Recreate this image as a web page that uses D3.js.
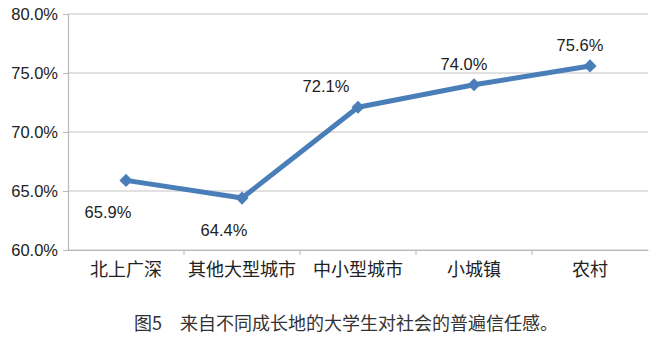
<!DOCTYPE html>
<html>
<head>
    <meta charset="UTF-8" />
    <title>trust chart</title>
    <style>
        body {
            margin: 0;
            padding: 0;
            background: white;
        }

        svg text {
            font-family: 'Liberation Sans', Arial, sans-serif;
        }

        .cjk {
            font-family: 'Noto Sans CJK SC', sans-serif !important;
        }
    </style>
</head>
<body>
    <svg id="chart" width="662" height="338"></svg>

    <script src="https://cdnjs.cloudflare.com/ajax/libs/d3/7.8.5/d3.min.js"></script>
    <script>
        const categories = ['北上广深', '其他大型城市', '中小型城市', '小城镇', '农村']
        const values = [65.9, 64.4, 72.1, 74.0, 75.6]
        const labelSide = ['below', 'below', 'above', 'above', 'above']
        const yTicks = [60, 65, 70, 75, 80]
        const caption = '图5　来自不同成长地的大学生对社会的普遍信任感。'

        const margin = { left: 68, right: 14, top: 14, bottom: 88 }
        const width = 662, height = 338

        const svg = d3.select('#chart')

        const x = d3.scaleBand()
            .domain(categories)
            .range([margin.left, width - margin.right])

        const y = d3.scaleLinear()
            .domain([60, 80])
            .range([height - margin.bottom, margin.top])

        // gridlines
        svg.append('g')
            .selectAll('line')
            .data(yTicks)
            .join('line')
            .attr('x1', margin.left)
            .attr('x2', width - margin.right)
            .attr('y1', d => y(d))
            .attr('y2', d => y(d))
            .attr('stroke', '#c4c4c4')
            .attr('stroke-width', 1.2)

        // y axis
        const yAxis = svg.append('g')
            .attr('transform', `translate(${margin.left},0)`)
            .call(d3.axisLeft(y).tickValues(yTicks).tickSize(5).tickFormat(d => d.toFixed(1) + '%'))
        yAxis.select('.domain').attr('stroke', '#b8b8b8').attr('stroke-width', 1.2)
        yAxis.selectAll('.tick line').attr('stroke', '#b8b8b8')
        yAxis.selectAll('.tick text')
            .attr('x', -10)
            .attr('font-size', 16.5)
            .attr('fill', '#222')
            .style('font-family', "'Liberation Sans', Arial, sans-serif")

        // x axis
        const xAxis = svg.append('g')
            .attr('transform', `translate(0,${y(60)})`)
            .call(d3.axisBottom(x).tickSize(0))
        xAxis.select('.domain').attr('stroke', '#b8b8b8').attr('stroke-width', 1.2)
        xAxis.selectAll('.tick text')
            .attr('class', 'cjk')
            .attr('y', 20)
            .attr('dy', '0.35em')
            .attr('font-size', 18)
            .attr('fill', '#222')

        // category boundary ticks
        svg.append('g')
            .selectAll('line')
            .data(categories.slice(1))
            .join('line')
            .attr('x1', d => x(d))
            .attr('x2', d => x(d))
            .attr('y1', y(60))
            .attr('y2', y(60) + 5)
            .attr('stroke', '#b8b8b8')

        const pts = categories.map((c, i) => [x(c) + x.bandwidth() / 2, y(values[i])])

        svg.append('path')
            .datum(pts)
            .attr('d', d3.line())
            .attr('fill', 'none')
            .attr('stroke', '#4a7eb8')
            .attr('stroke-width', 5)
            .attr('stroke-linejoin', 'round')

        svg.append('g')
            .selectAll('path')
            .data(pts)
            .join('path')
            .attr('transform', d => `translate(${d[0]},${d[1]})`)
            .attr('d', d3.symbol(d3.symbolDiamond2, 110))
            .attr('fill', '#4a7eb8')

        svg.append('g')
            .selectAll('text')
            .data(values)
            .join('text')
            .attr('x', (d, i) => pts[i][0] - (labelSide[i] === 'below' ? 18 : (i === 2 ? 32 : 10)))
            .attr('y', (d, i) => pts[i][1] + (labelSide[i] === 'below' ? 32 : -21))
            .attr('dy', '0.35em')
            .attr('text-anchor', 'middle')
            .attr('font-size', 16.5)
            .attr('fill', '#222')
            .text(d => d.toFixed(1) + '%')

        svg.append('text')
            .attr('class', 'cjk')
            .attr('x', 346)
            .attr('y', 324)
            .attr('dy', '0.35em')
            .attr('text-anchor', 'middle')
            .attr('font-size', 18)
            .attr('fill', '#333')
            .text(caption)
    </script>
</body>
</html>
